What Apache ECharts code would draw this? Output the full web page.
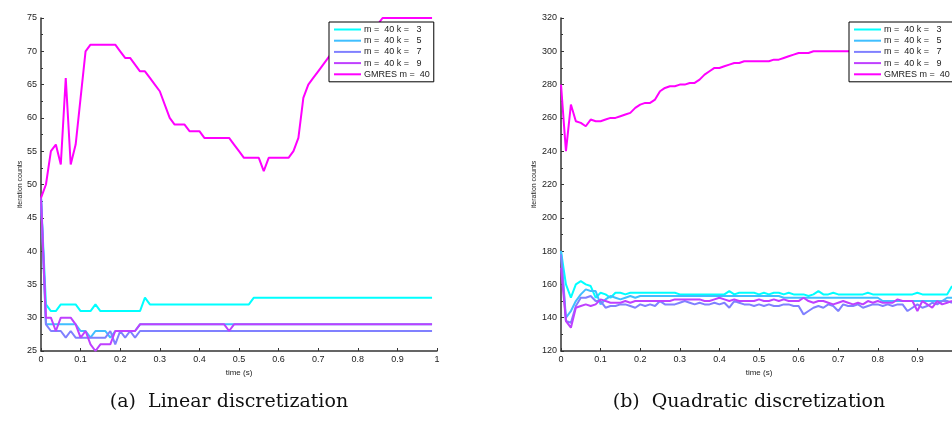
<!DOCTYPE html>
<html>
<head>
<meta charset="utf-8">
<script src="https://cdn.jsdelivr.net/npm/echarts@6/dist/echarts.min.js"></script>
<style>html,body{margin:0;padding:0;background:#fff;}#c{width:952px;height:437px;}</style>
</head>
<body>
<div id="c"></div>
<script>
// time steps (s)
var times = [0,0.0125,0.025,0.0375,0.05,0.0625,0.075,0.0875,0.1,0.1125,0.125,0.1375,0.15,0.1625,0.175,0.1875,0.2,0.2125,0.225,0.2375,
0.25,0.2625,0.275,0.2875,0.3,0.3125,0.325,0.3375,0.35,0.3625,0.375,0.3875,0.4,0.4125,0.425,0.4375,0.45,0.4625,0.475,0.4875,
0.5,0.5125,0.525,0.5375,0.55,0.5625,0.575,0.5875,0.6,0.6125,0.625,0.6375,0.65,0.6625,0.675,0.6875,0.7,0.7125,0.725,0.7375,
0.75,0.7625,0.775,0.7875,0.8,0.8125,0.825,0.8375,0.85,0.8625,0.875,0.8875,0.9,0.9125,0.925,0.9375,0.95,0.9625,0.975,0.9875];

var seriesNames = ['m =  40 k =   3','m =  40 k =   5','m =  40 k =   7','m =  40 k =   9','GMRES m =  40'];
var colors = ['#00ffff','#40bfff','#8080ff','#bf40ff','#ff00ff'];

// (a) Linear discretization
var linK3 = [48,32,31,31,32,32,32,32,31,31,31,32,31,31,31,31,31,31,31,31,
31,33,32,32,32,32,32,32,32,32,32,32,32,32,32,32,32,32,32,32,
32,32,32,33,33,33,33,33,33,33,33,33,33,33,33,33,33,33,33,33,
33,33,33,33,33,33,33,33,33,33,33,33,33,33,33,33,33,33,33,33];
var linK5 = [48,29,29,29,29,29,29,29,28,28,27,28,28,28,27,28,28,28,28,28,
29,29,29,29,29,29,29,29,29,29,29,29,29,29,29,29,29,29,29,29,
29,29,29,29,29,29,29,29,29,29,29,29,29,29,29,29,29,29,29,29,
29,29,29,29,29,29,29,29,29,29,29,29,29,29,29,29,29,29,29,29];
var linK7 = [48,29,28,28,28,27,28,27,27,27,27,27,27,27,28,26,28,27,28,27,
28,28,28,28,28,28,28,28,28,28,28,28,28,28,28,28,28,28,28,28,
28,28,28,28,28,28,28,28,28,28,28,28,28,28,28,28,28,28,28,28,
28,28,28,28,28,28,28,28,28,28,28,28,28,28,28,28,28,28,28,28];
var linK9 = [48,30,30,28,30,30,30,29,27,28,26,25,26,26,26,28,28,28,28,28,
29,29,29,29,29,29,29,29,29,29,29,29,29,29,29,29,29,29,28,29,
29,29,29,29,29,29,29,29,29,29,29,29,29,29,29,29,29,29,29,29,
29,29,29,29,29,29,29,29,29,29,29,29,29,29,29,29,29,29,29,29];
var linGM = [48,50,55,56,53,66,53,56,63,70,71,71,71,71,71,71,70,69,69,68,
67,67,66,65,64,62,60,59,59,59,58,58,58,57,57,57,57,57,57,56,
55,54,54,54,54,52,54,54,54,54,54,55,57,63,65,66,67,68,69,70,
71,72,72,73,73,74,74,74,74,75,75,75,75,75,75,75,75,75,75,75];

// (b) Quadratic discretization
var quadK3 = [180,160,152,160,162,160,159,152,155,154,152,155,155,154,155,155,155,155,155,155,
155,155,155,155,154,154,154,154,154,154,154,154,154,154,156,154,155,155,155,155,
154,155,154,155,155,154,155,154,154,154,153,154,156,154,154,155,154,154,154,154,
154,154,155,154,154,154,154,154,154,154,154,154,155,154,154,154,154,154,154,159];
var quadK5 = [180,140,144,150,154,157,156,156,148,151,153,152,151,152,153,152,153,153,153,153,
153,153,153,153,153,153,153,153,153,153,153,153,153,153,153,153,153,153,153,153,
153,153,153,153,153,152,152,152,152,152,152,152,152,152,152,152,152,152,152,152,
152,152,152,152,152,150,150,150,150,150,150,150,150,150,150,150,150,150,152,152];
var quadK7 = [178,138,137,147,152,152,153,150,150,146,147,147,148,148,147,146,148,147,148,147,
150,148,148,148,149,150,149,148,149,148,148,149,148,149,146,150,149,148,148,147,
148,147,148,147,147,148,148,147,147,142,144,146,147,146,148,147,144,148,147,147,
148,146,147,148,148,147,148,147,148,148,144,146,148,146,147,149,148,150,150,149];
var quadK9 = [170,138,134,146,147,148,147,148,151,150,149,149,149,150,149,150,150,150,150,150,
150,150,150,151,151,151,151,151,151,150,150,151,152,151,150,151,150,150,150,150,
151,150,150,151,150,151,150,150,150,152,150,149,150,150,149,148,149,150,149,148,
149,148,150,149,150,149,149,149,151,150,150,150,144,150,148,146,150,148,149,150];
var quadGM = [280,240,268,258,257,255,259,258,258,259,260,260,261,262,263,266,268,269,269,271,
276,278,279,279,280,280,281,281,283,286,288,290,290,291,292,293,293,294,294,294,
294,294,294,295,295,296,297,298,299,299,299,300,300,300,300,300,300,300,300,300,
300,300,300,300,300,300,300,300,300,300,300,300,300,300,300,300,300,300,300,300];

var xTicksMin = 0, xTicksMax = 1, xTickStep = 0.1;
var linYMin = 25, linYMax = 75, linYStep = 5;
var quadYMin = 120, quadYMax = 320, quadYStep = 20;
var captions = ['(a)  Linear discretization', '(b)  Quadratic discretization'];

function pairs(vals){ return vals.map(function(v,i){ return [times[i], v]; }); }

var axisCol = '#333';
var font = 'Liberation Sans, Arial, sans-serif';
function xAxis(gi){
  return {
    gridIndex: gi, type: 'value', min: xTicksMin, max: xTicksMax, interval: xTickStep,
    name: 'time (s)', nameLocation: 'middle', nameGap: 16,
    nameTextStyle: {fontSize: 8, color: '#222', fontFamily: font},
    axisLine: {show: true, lineStyle: {color: axisCol, width: 1.5}},
    axisTick: {show: true, inside: true, length: 3, lineStyle: {color: axisCol}},
    axisLabel: {fontSize: 9, color: '#222', margin: 4, fontFamily: font,
      formatter: function(v){ return String(Math.round(v*10)/10); }},
    splitLine: {show: false}
  };
}
function yAxis(gi, mn, mx, st){
  return {
    gridIndex: gi, type: 'value', min: mn, max: mx, interval: st,
    name: 'iteration counts', nameLocation: 'middle', nameRotate: 90,
    nameGap: gi === 0 ? 16 : 23,
    nameTextStyle: {fontSize: 7, color: '#222', fontFamily: font},
    axisLine: {show: true, lineStyle: {color: axisCol, width: 1.5}},
    axisTick: {show: true, inside: true, length: 3, lineStyle: {color: axisCol}},
    minorTick: {show: true, splitNumber: 2, length: 2, lineStyle: {color: axisCol}},
    axisLabel: {fontSize: 9, color: '#222', margin: 4, fontFamily: font},
    splitLine: {show: false}
  };
}

var series = [];
var linData = [linK3, linK5, linK7, linK9, linGM];
var quadData = [quadK3, quadK5, quadK7, quadK9, quadGM];
[linData, quadData].forEach(function(set, gi){
  set.forEach(function(vals, k){
    series.push({
      type: 'line', name: seriesNames[k], xAxisIndex: gi, yAxisIndex: gi,
      data: pairs(vals), showSymbol: false, symbol: 'none', animation: false,
      lineStyle: {color: colors[k], width: 2}, itemStyle: {color: colors[k]},
      clip: true, z: 2
    });
  });
});

function legend(left){
  return {
    left: left, top: 22, orient: 'vertical',
    data: seriesNames, icon: 'rect', itemWidth: 27, itemHeight: 2, itemGap: 2.2,
    padding: [3, 4, 3, 5], backgroundColor: '#fff', borderColor: '#000', borderWidth: 1,
    textStyle: {fontSize: 9, color: '#222', fontFamily: font, padding: [0,0,0,-2]},
    selectedMode: false, z: 10
  };
}

var chart = echarts.init(document.getElementById('c'), null, {renderer: 'canvas'});
chart.setOption({
  animation: false,
  backgroundColor: '#fff',
  grid: [
    {left: 41, top: 18, width: 396, height: 333, containLabel: false, outerBoundsMode: 'none'},
    {left: 561, top: 18, width: 396, height: 333, containLabel: false, outerBoundsMode: 'none'}
  ],
  xAxis: [xAxis(0), xAxis(1)],
  yAxis: [yAxis(0, linYMin, linYMax, linYStep), yAxis(1, quadYMin, quadYMax, quadYStep)],
  legend: [legend(329), legend(849)],
  series: series,
  graphic: [
    {type: 'text', style: {text: captions[0], font: '19px "DejaVu Serif", serif', fill: '#111', textAlign: 'center', textVerticalAlign: 'middle', x: 229, y: 402}},
    {type: 'text', style: {text: captions[1], font: '19px "DejaVu Serif", serif', fill: '#111', textAlign: 'center', textVerticalAlign: 'middle', x: 749, y: 402}}
  ]
});
</script>
</body>
</html>
